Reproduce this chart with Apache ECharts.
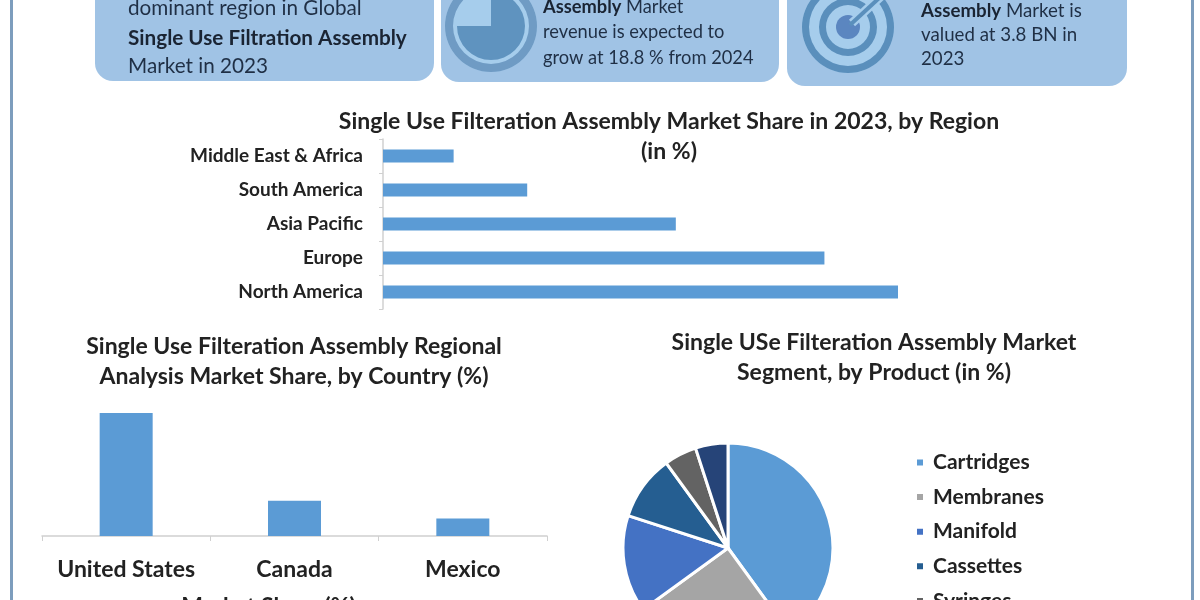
<!DOCTYPE html>
<html>
<head>
<meta charset="utf-8">
<title>Single Use Filtration Assembly Market</title>
<script src="https://cdn.jsdelivr.net/npm/echarts@6/dist/echarts.min.js"></script>
<style>
  html, body { margin: 0; padding: 0; background: #fff; }
  #main { width: 1200px; height: 600px; }
</style>
</head>
<body>
<div id="main"></div>
<script>
// region chart
var regionNames = ['North America', 'Europe', 'Asia Pacific', 'South America', 'Middle East & Africa'];
var regionValues = [35, 30, 19.9, 9.8, 4.8];

// country chart
var countryNames = ['United States', 'Canada', 'Mexico'];
var countryValues = [70, 20, 10];

// product pie ("Others" sits below the edge of the picture)
var productNames = ['Cartridges', 'Membranes', 'Manifold', 'Cassettes', 'Syringes', 'Others'];
var productValues = [40, 25, 15, 10, 5, 5];
var productColors = ['#5b9bd5', '#a5a5a5', '#4472c4', '#255e91', '#636363', '#264478'];

// callout boxes at the top
var box1Lines = ['dominant region in Global', '{b|Single Use Filtration Assembly}', 'Market in 2023'];
var box2Lines = ['{b|Assembly} Market', 'revenue is expected to', 'grow at 18.8 % from 2024'];
var box3Lines = ['{b|Assembly} Market is', 'valued at 3.8 BN in', '2023'];

var fontName = 'Lato';
var boxColor = '#a0c3e5';
var textDark = '#222222';

function boxText(lines, x, ys, size) {
  return lines.map(function (line, i) {
    return {
      type: 'text',
      x: x,
      y: ys[i],
      style: {
        text: line,
        fontFamily: fontName,
        fontSize: size,
        fill: '#1f2f45',
        verticalAlign: 'middle',
        rich: {
          b: { fontFamily: fontName, fontSize: size, fontWeight: 'bold', fill: '#1a2433' }
        }
      }
    };
  });
}

function box(x, w, bottom) {
  return {
    type: 'rect',
    shape: { x: x, y: -40, width: w, height: bottom + 40, r: 18 },
    style: { fill: boxColor }
  };
}

function ring(cx, cy, r, r0, color) {
  return {
    type: 'ring',
    shape: { cx: cx, cy: cy, r: r, r0: r0 },
    style: { fill: color }
  };
}

var graphics = [
  // side lines
  { type: 'rect', shape: { x: 10, y: 0, width: 3, height: 600 }, style: { fill: '#7d9dbd' } },
  { type: 'rect', shape: { x: 1191, y: 0, width: 3, height: 600 }, style: { fill: '#7d9dbd' } },

  box(95, 339, 81),
  box(441, 338, 82),
  box(787, 340, 86),

  // clock icon
  { type: 'circle', shape: { cx: 491, cy: 26, r: 46 }, style: { fill: '#a6cdec' } },
  ring(491, 26, 46, 38, '#6f9bc4'),
  { type: 'sector', shape: { cx: 491, cy: 26, r: 34, r0: 0, startAngle: -Math.PI / 2, endAngle: Math.PI }, style: { fill: '#5f93bf' } },

  // target icon
  { type: 'circle', shape: { cx: 848, cy: 27, r: 46 }, style: { fill: '#a6cdec' } },
  ring(848, 27, 46, 39, '#5a8fbc'),
  ring(848, 27, 29, 22, '#5a8fbc'),
  { type: 'circle', shape: { cx: 848, cy: 27, r: 12 }, style: { fill: '#5b86c0' } },
  { type: 'line', shape: { x1: 852, y1: 23, x2: 890, y2: -12 }, style: { stroke: '#a6cdec', lineWidth: 9 } },
  { type: 'line', shape: { x1: 850, y1: 25, x2: 890, y2: -12 }, style: { stroke: '#5a8fbc', lineWidth: 4 } }
]
  .concat(boxText(box1Lines, 128, [8, 38, 66], 20.7))
  .concat(boxText(box2Lines, 543, [7, 32, 58], 18.3))
  .concat(boxText(box3Lines, 921, [11, 35, 59], 18.7));

var titleStyle = { fontFamily: fontName, fontSize: 23, fontWeight: 'bold', color: textDark, lineHeight: 30 };
var axisLabelStyle = { fontFamily: fontName, fontWeight: 'bold', color: textDark };

var option = {
  backgroundColor: '#ffffff',
  animation: false,
  title: [
    { text: 'Single Use Filteration Assembly Market Share in 2023, by Region\n(in %)', left: 664, top: 102, textAlign: 'center', textStyle: titleStyle },
    { text: 'Single Use Filteration Assembly Regional\nAnalysis Market Share, by Country (%)', left: 289, top: 327, textAlign: 'center', textStyle: titleStyle },
    { text: 'Single USe Filteration Assembly Market\nSegment, by Product (in %)', left: 869, top: 323, textAlign: 'center', textStyle: titleStyle }
  ],
  grid: [
    { left: 383, top: 139, width: 515, height: 170, outerBoundsMode: 'none' },
    { left: 42, top: 413, width: 505, height: 123, outerBoundsMode: 'none' }
  ],
  xAxis: [
    { gridIndex: 0, type: 'value', min: 0, max: 35, show: false },
    {
      gridIndex: 1,
      type: 'category',
      data: countryNames,
      name: 'Market Share (%)',
      nameLocation: 'middle',
      nameGap: 59,
      nameTextStyle: { fontFamily: fontName, fontSize: 23, fontWeight: 'bold', color: textDark, padding: [0, 52, 0, 0] },
      axisLine: { lineStyle: { color: '#d0d0d0', width: 1.5 } },
      axisTick: { show: true, length: 5, lineStyle: { color: '#d0d0d0' } },
      axisLabel: Object.assign({ fontSize: 23, margin: 22, interval: 0 }, axisLabelStyle)
    }
  ],
  yAxis: [
    {
      gridIndex: 0,
      type: 'category',
      data: regionNames,
      axisLine: { lineStyle: { color: '#d0d0d0', width: 1.5 } },
      axisTick: { show: true, length: 4, lineStyle: { color: '#d0d0d0' } },
      axisLabel: Object.assign({ fontSize: 19, margin: 20, interval: 0 }, axisLabelStyle)
    },
    { gridIndex: 1, type: 'value', min: 0, max: 70, show: false }
  ],
  legend: {
    orient: 'vertical',
    left: 910,
    top: 447,
    height: 300,
    itemWidth: 8,
    itemHeight: 8,
    itemGap: 13.6,
    icon: 'rect',
    data: productNames,
    textStyle: { fontFamily: fontName, fontSize: 21, fontWeight: 'bold', color: textDark, padding: [0, 0, 0, 4] }
  },
  series: [
    {
      type: 'bar',
      xAxisIndex: 0,
      yAxisIndex: 0,
      data: regionValues,
      barWidth: 13,
      itemStyle: { color: '#5b9bd5' }
    },
    {
      type: 'bar',
      xAxisIndex: 1,
      yAxisIndex: 1,
      data: countryValues,
      barWidth: 53,
      itemStyle: { color: '#5b9bd5' }
    },
    {
      type: 'pie',
      center: [728, 548],
      radius: 105,
      startAngle: 90,
      clockwise: true,
      label: { show: false },
      labelLine: { show: false },
      itemStyle: { borderColor: '#ffffff', borderWidth: 3 },
      color: productColors,
      data: productNames.map(function (name, i) {
        return { name: name, value: productValues[i] };
      })
    }
  ],
  graphic: graphics
};

var mychart = echarts.init(document.getElementById('main'));
mychart.setOption(option);
</script>
</body>
</html>
